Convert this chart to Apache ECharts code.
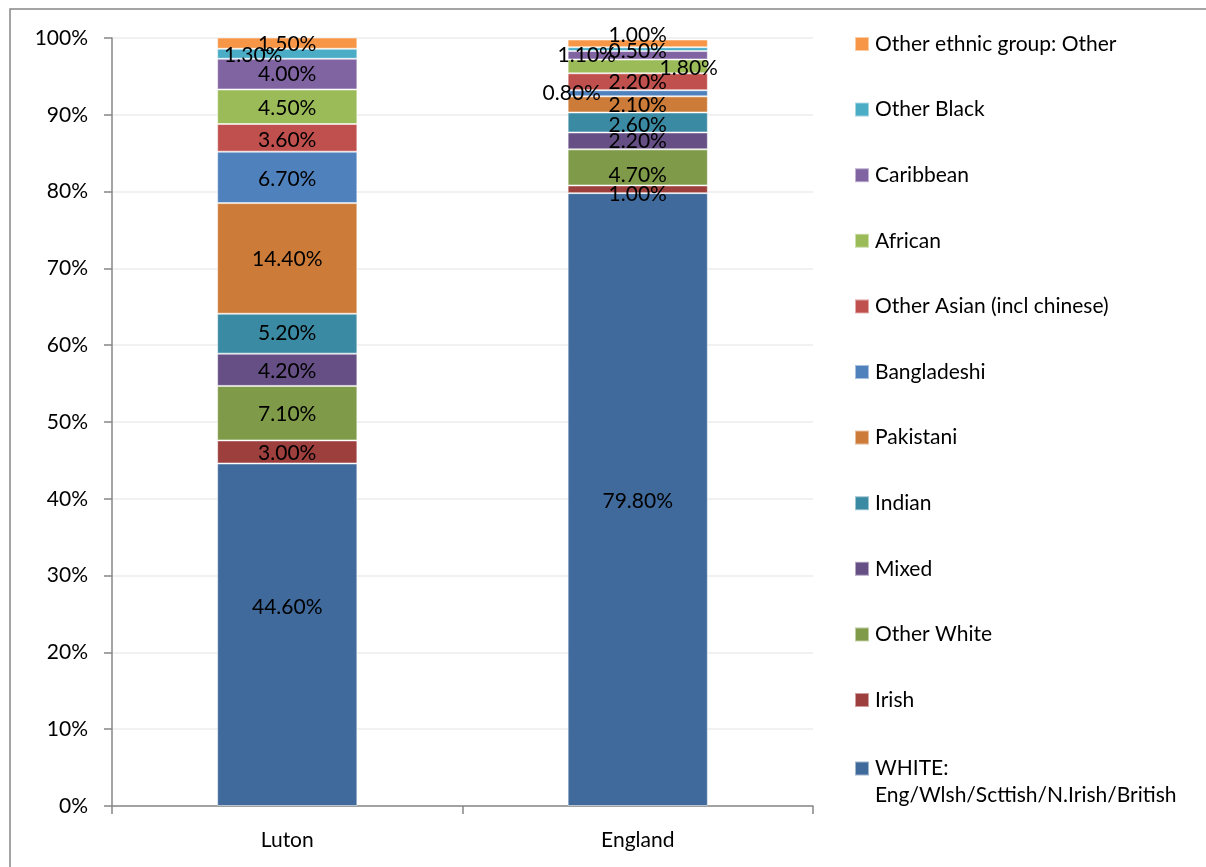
<!DOCTYPE html>
<html>
<head>
<meta charset="utf-8">
<script src="https://cdn.jsdelivr.net/npm/echarts@6/dist/echarts.min.js"></script>
<style>
html,body{margin:0;padding:0;background:#fff;}
#chart{width:1206px;height:867px;}
</style>
</head>
<body>
<div id="chart"></div>
<script>
const categories = ['Luton', 'England'];
const seriesNames = [
  'WHITE: Eng/Wlsh/Scttish/N.Irish/British',
  'Irish',
  'Other White',
  'Mixed',
  'Indian',
  'Pakistani',
  'Bangladeshi',
  'Other Asian (incl chinese)',
  'African',
  'Caribbean',
  'Other Black',
  'Other ethnic group: Other'
];
const lutonValues   = [44.6, 3.0, 7.1, 4.2, 5.2, 14.4, 6.7, 3.6, 4.5, 4.0, 1.3, 1.5];
const englandValues = [79.8, 1.0, 4.7, 2.2, 2.6, 2.1, 0.8, 2.2, 1.8, 1.1, 0.5, 1.0];
const yTicks = ['0%','10%','20%','30%','40%','50%','60%','70%','80%','90%','100%'];

const colors = ['#406A9C','#9C3F3D','#7F9A48','#664F84','#3B8AA3','#CD7B38',
                '#4F81BD','#C0504D','#9BBB59','#8064A2','#4BACC6','#F79646'];

// manual label nudges (as in the reference) [luton, england]
const labelOffsets = [
  [[0,-28],[0,2]],
  [[0,1],[0,5]],
  [[0,1],[0,8]],
  [[0,1],[0,0]],
  [[0,0],[0,3]],
  [[0,1],[0,1]],
  [[0,2],[-66,0]],
  [[0,2],[0,0]],
  [[0,1],[51,2]],
  [[0,0],[-51,0]],
  [[-34,1],[0,2]],
  [[0,1],[0,-8]]
];

const FONT = 'Lato';
const FS = 21;
const series = seriesNames.map((name, i) => ({
  name: name,
  type: 'bar',
  stack: 'total',
  barWidth: '40%',
  itemStyle: { color: colors[i], borderColor: 'rgba(255,255,255,0.5)', borderWidth: 1 },
  label: {
    show: true,
    position: 'inside',
    color: '#000',
    fontFamily: FONT,
    fontSize: FS,
    formatter: p => p.value.toFixed(2) + '%'
  },
  data: [
    { value: lutonValues[i], label: { offset: labelOffsets[i][0] } },
    { value: englandValues[i], label: { offset: labelOffsets[i][1] } }
  ]
}));

const legendNames = seriesNames.slice(1).reverse();

const chart = echarts.init(document.getElementById('chart'), null, { renderer: 'canvas' });
chart.setOption({
  animation: false,
  backgroundColor: '#fff',
  graphic: [{
    type: 'rect',
    shape: { x: 10, y: 9, width: 1220, height: 880 },
    style: { fill: 'none', stroke: '#868686', lineWidth: 1.5 },
    silent: true
  }],
  grid: { left: 112, right: 393, top: 38, bottom: 61, containLabel: false },
  legend: [{
    orient: 'vertical',
    left: 854,
    top: 31.5,
    padding: 0,
    itemWidth: 14,
    itemHeight: 14,
    itemGap: 40.6,
    icon: 'rect',
    data: legendNames,
    textStyle: { fontFamily: FONT, fontSize: FS, color: '#000', lineHeight: 25, padding: [0,0,0,1] },
    selectedMode: false
  }, {
    orient: 'vertical',
    left: 854,
    top: 754.5,
    padding: 0,
    itemWidth: 14,
    itemHeight: 40,
    icon: 'path://M0,0h14v14h-14z M0,40h0.001',
    data: [seriesNames[0]],
    formatter: () => 'WHITE:\nEng/Wlsh/Scttish/N.Irish/British',
    textStyle: { fontFamily: FONT, fontSize: FS, color: '#000', lineHeight: 27, padding: [0,0,0,1] },
    selectedMode: false
  }],
  xAxis: {
    type: 'category',
    data: categories,
    axisLine: { lineStyle: { color: '#868686', width: 1.5 } },
    axisTick: { show: true, length: 8, lineStyle: { color: '#868686', width: 1.5 } },
    axisLabel: { color: '#000', fontFamily: FONT, fontSize: FS, margin: 24 }
  },
  yAxis: {
    type: 'value',
    min: 0,
    max: 100,
    interval: 10,
    axisLine: { show: true, lineStyle: { color: '#868686', width: 1.5 } },
    axisTick: { show: true, length: 8, lineStyle: { color: '#868686', width: 1.5 } },
    axisLabel: { color: '#000', fontFamily: FONT, fontSize: FS, margin: 24,
      formatter: v => yTicks[Math.round(v / 10)] },
    splitLine: { show: true, lineStyle: { color: '#ececec', width: 1.5 } }
  },
  series: series
});
</script>
</body>
</html>
